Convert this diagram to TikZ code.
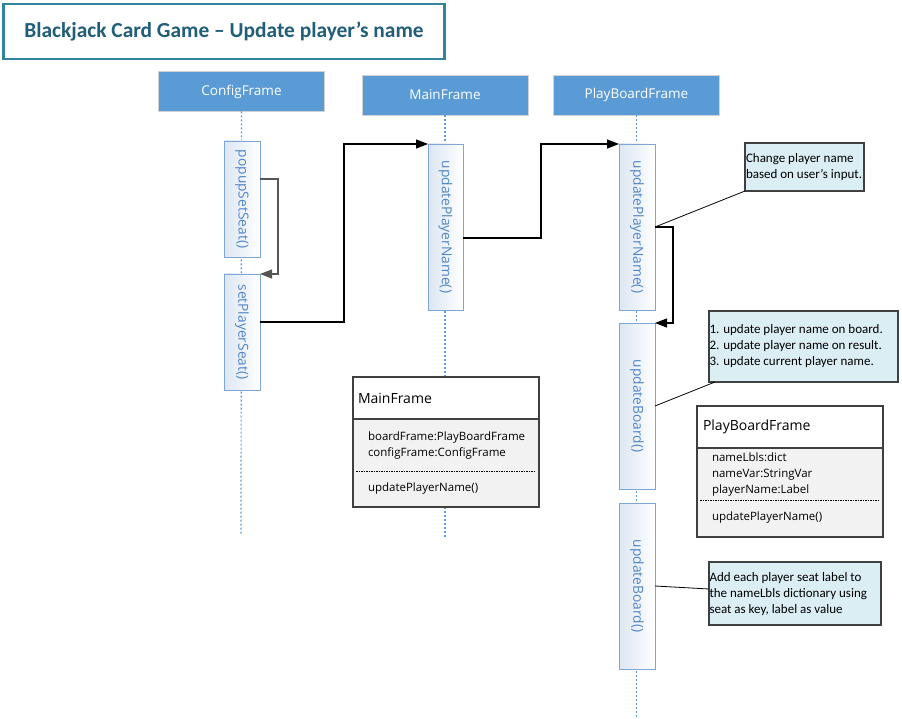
\documentclass[tikz,border=0pt]{standalone}
\usepackage{fontspec}
\setmainfont{Carlito}
\newfontfamily\osf{Open Sans}
\usetikzlibrary{arrows.meta,calc}
\definecolor{headblue}{HTML}{5B9BD5}
\definecolor{actborder}{HTML}{7EA6D6}
\definecolor{actfill}{HTML}{DCE6F2}
\definecolor{acttext}{HTML}{4F86C6}
\definecolor{notefill}{HTML}{DAEEF3}
\definecolor{notedraw}{HTML}{404040}
\definecolor{clsdraw}{HTML}{404040}
\definecolor{clsbody}{HTML}{F2F2F2}
\definecolor{titleteal}{HTML}{31849B}
\definecolor{titletext}{HTML}{215E79}
\definecolor{selfgray}{HTML}{555555}
\begin{document}
\begin{tikzpicture}[x=1pt,y=-1pt,
  every node/.style={inner sep=0pt, outer sep=0pt},
  titlebox/.style={draw=titleteal, line width=2.5pt, fill=white, minimum width=441pt, minimum height=55pt, text=titletext, font=\bfseries\fontsize{21.4}{24}\selectfont},
  headbox/.style={fill=headblue, draw=gray!35, line width=0.8pt, minimum width=166pt, minimum height=40pt, text=white, font=\osf\fontsize{13.5}{16}\selectfont},
  actbox/.style={draw=actborder, line width=0.9pt, left color=actfill, right color=white, minimum width=36pt},
  actlabel/.style={rotate=-90, text=acttext, font=\osf\fontsize{13.8}{16}\selectfont},
  lifeline/.style={draw=headblue, line width=1.2pt, dash pattern=on 2pt off 2pt},
  msg/.style={draw=black, line width=1.1pt, -{Triangle[length=12pt,width=9pt]}},
  notebox/.style={draw=notedraw, fill=notefill, line width=1.1pt, anchor=north west},
  notetext/.style={font=\fontsize{13}{16}\selectfont, align=left, anchor=west},
  noteline/.style={draw=black, line width=0.8pt},
  clshead/.style={draw=clsdraw, fill=white, line width=1.2pt, anchor=north west, minimum width=186pt, minimum height=42pt},
  clsbody/.style={draw=clsdraw, fill=clsbody, line width=1.2pt, anchor=north west, minimum width=186pt},
  clstitle/.style={anchor=west, font=\osf\fontsize{14}{16}\selectfont},
  clstext/.style={anchor=west, align=left, font=\osf\fontsize{11.5}{16}\selectfont},
  sepline/.style={draw=black, line width=0.8pt, dash pattern=on 1.5pt off 1pt}
]
\useasboundingbox (0,0) rectangle (902,719);

% title
\node[titlebox] (title) at (224,31.5) {Blackjack Card Game -- Update player’s name};

% lifeline headers
\node[headbox] (cf) at (241.5,91.5) {ConfigFrame};
\node[headbox] (mf) at (445,95) {MainFrame};
\node[headbox] (pf) at (636.5,95) {PlayBoardFrame};

% lifelines
\coordinate (cfend) at (241,535);
\coordinate (mfend) at (445,538);
\coordinate (pfend) at (636.5,719);
\draw[lifeline] (cf.south) -- (cfend);
\draw[lifeline] (mf.south) -- (mfend);
\draw[lifeline] (pf.south) -- (pfend);

% activation boxes
\node[actbox, minimum height=116pt] (pop) at (242,199) {};
\node[actlabel] at (pop.center) {popupSetSeat()};
\node[actbox, minimum height=116pt] (set) at (242,332) {};
\node[actlabel] at (set.center) {setPlayerSeat()};
\node[actbox, minimum width=35pt, minimum height=166pt] (mpn) at (445.5,227) {};
\node[actlabel] at (mpn.center) {updatePlayerName()};
\node[actbox, minimum height=166pt] (ppn) at (637,227) {};
\node[actlabel] at (ppn.center) {updatePlayerName()};
\node[actbox, minimum height=166pt] (ub1) at (637,406) {};
\node[actlabel] at (ub1.center) {updateBoard()};
\node[actbox, minimum height=166pt] (ub2) at (637,586) {};
\node[actlabel] at (ub2.center) {updateBoard()};

% messages
\draw[msg, draw=selfgray] (pop.east |- 0,179) -| (278,274) -- (set.north east);
\draw[msg] (set.east |- 0,322) -| (344,144) -- (mpn.north west);
\draw[msg] (mpn.east |- 0,238) -| (541,144) -- (ppn.north west);
\draw[msg] (ppn.east |- 0,227) -| (673,323) -- (ub1.north east);

% notes
\node[notebox, minimum width=119pt, minimum height=48pt] (n1) at (745,143) {};
\node[notetext] at (746,167) {Change player name\\based on user’s input.};
\node[notebox, minimum width=189pt, minimum height=71pt] (n2) at (709,311) {};
\node[notetext] at (709.5,346) {1. update player name on board.\\2. update player name on result.\\3. update current player name.};
\node[notebox, minimum width=172pt, minimum height=63pt] (n3) at (709,562) {};
\node[notetext] at (709.5,594) {Add each player seat label to\\the nameLbls dictionary using\\seat as key, label as value};

\draw[noteline] (n1.south west) -- (ppn.east |- 0,227);
\draw[noteline] ([xshift=6pt]n2.south west) -- (ub1.east |- 0,406);
\draw[noteline] (ub2.east |- 0,586) -- (n3.west |- 0,589);

% class MainFrame
\node[clshead] (mch) at (353,377) {};
\node[clsbody, minimum height=88pt] (mcb) at (353,419) {};
\node[clstitle] at (358,398) {MainFrame};
\node[clstext] at (368,446) {boardFrame:PlayBoardFrame\\configFrame:ConfigFrame};
\draw[sepline] ([xshift=3pt]mcb.west |- 0,471) -- ([xshift=-3pt]mcb.east |- 0,471);
\node[clstext] at (368,489) {updatePlayerName()};

% class PlayBoardFrame
\node[clshead] (pch) at (697,406) {};
\node[clsbody, minimum height=89pt] (pcb) at (697,448) {};
\node[clstitle] at (703,427) {PlayBoardFrame};
\node[clstext] at (712,475) {nameLbls:dict\\nameVar:StringVar\\playerName:Label};
\draw[sepline] ([xshift=3pt]pcb.west |- 0,500) -- ([xshift=-3pt]pcb.east |- 0,500);
\node[clstext] at (712,518) {updatePlayerName()};
\end{tikzpicture}
\end{document}
